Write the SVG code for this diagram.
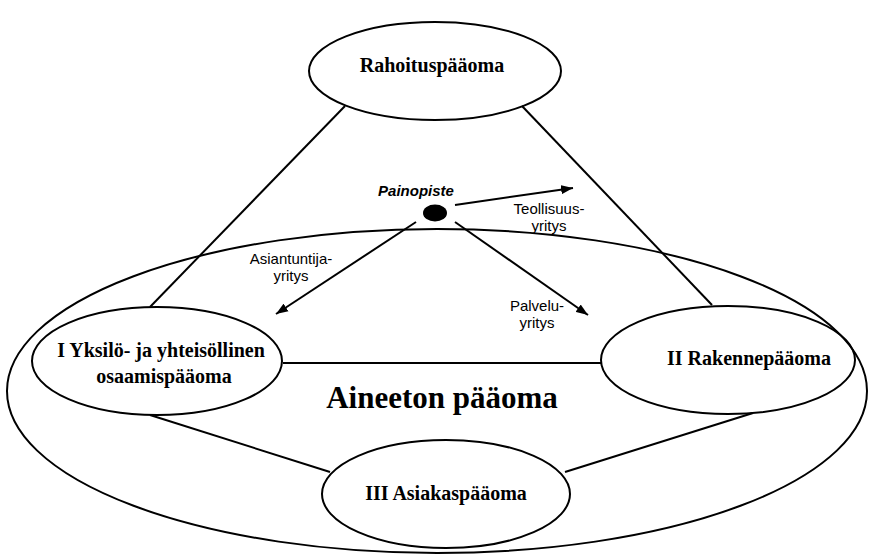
<svg xmlns="http://www.w3.org/2000/svg" width="870" height="560" viewBox="0 0 870 560">
<style>
  .shape { fill: none; stroke: #000; stroke-width: 2; }
  .line { stroke: #000; stroke-width: 2; fill: none; }
  .node { font-family: "Liberation Serif", serif; font-weight: bold; font-size: 20px; fill: #000; text-anchor: middle; }
  .big { font-family: "Liberation Serif", serif; font-weight: bold; font-size: 31px; fill: #000; text-anchor: middle; }
  .lbl { font-family: "Liberation Sans", sans-serif; font-size: 15px; fill: #000; text-anchor: middle; }
  .focus { font-family: "Liberation Sans", sans-serif; font-size: 15px; font-weight: bold; font-style: italic; fill: #000; text-anchor: middle; }
</style>
<defs>
  <marker id="arr" viewBox="0 0 12 10" refX="12" refY="5" markerWidth="12" markerHeight="10" markerUnits="userSpaceOnUse" orient="auto">
    <path d="M0,0.5 L12,5 L0,9.5 Z" fill="#000"/>
  </marker>
</defs>
<rect width="870" height="560" fill="#fff"/>

<g id="aineeton">
  <ellipse class="shape" cx="437" cy="391" rx="430" ry="162"/>
  <text class="big" x="442" y="408">Aineeton pääoma</text>
</g>

<g id="connectors">
  <line class="line" x1="345" y1="106" x2="150" y2="307"/>
  <line class="line" x1="522" y1="106" x2="712" y2="305"/>
  <line class="line" x1="283" y1="363" x2="602" y2="363"/>
  <line class="line" x1="150" y1="415" x2="330" y2="472"/>
  <line class="line" x1="565" y1="472" x2="753" y2="413"/>
</g>

<g id="rahoitus">
  <ellipse class="shape" cx="435" cy="71" rx="126" ry="49"/>
  <text class="node" x="432" y="72">Rahoituspääoma</text>
</g>

<g id="osaaminen">
  <ellipse class="shape" cx="157" cy="361" rx="125" ry="54"/>
  <text class="node" x="161" y="357">I Yksilö- ja yhteisöllinen</text>
  <text class="node" x="164" y="383">osaamispääoma</text>
</g>

<g id="rakenne">
  <ellipse class="shape" cx="728" cy="360" rx="127" ry="54"/>
  <text class="node" x="749" y="365">II Rakennepääoma</text>
</g>

<g id="asiakas">
  <ellipse class="shape" cx="446" cy="494" rx="124" ry="54"/>
  <text class="node" x="446" y="500">III Asiakaspääoma</text>
</g>

<g id="painopiste">
  <ellipse cx="435" cy="213" rx="12" ry="8.5" fill="#000"/>
  <text class="focus" x="416" y="196">Painopiste</text>
  <line class="line" x1="455" y1="205" x2="573" y2="188" marker-end="url(#arr)"/>
  <line class="line" x1="416" y1="222" x2="276" y2="314" marker-end="url(#arr)"/>
  <line class="line" x1="455" y1="222" x2="588" y2="315" marker-end="url(#arr)"/>
  <text class="lbl" x="549" y="214">Teollisuus-</text>
  <text class="lbl" x="549" y="231">yritys</text>
  <text class="lbl" x="291" y="264">Asiantuntija-</text>
  <text class="lbl" x="291" y="281">yritys</text>
  <text class="lbl" x="537" y="311">Palvelu-</text>
  <text class="lbl" x="537" y="328">yritys</text>
</g>
</svg>
